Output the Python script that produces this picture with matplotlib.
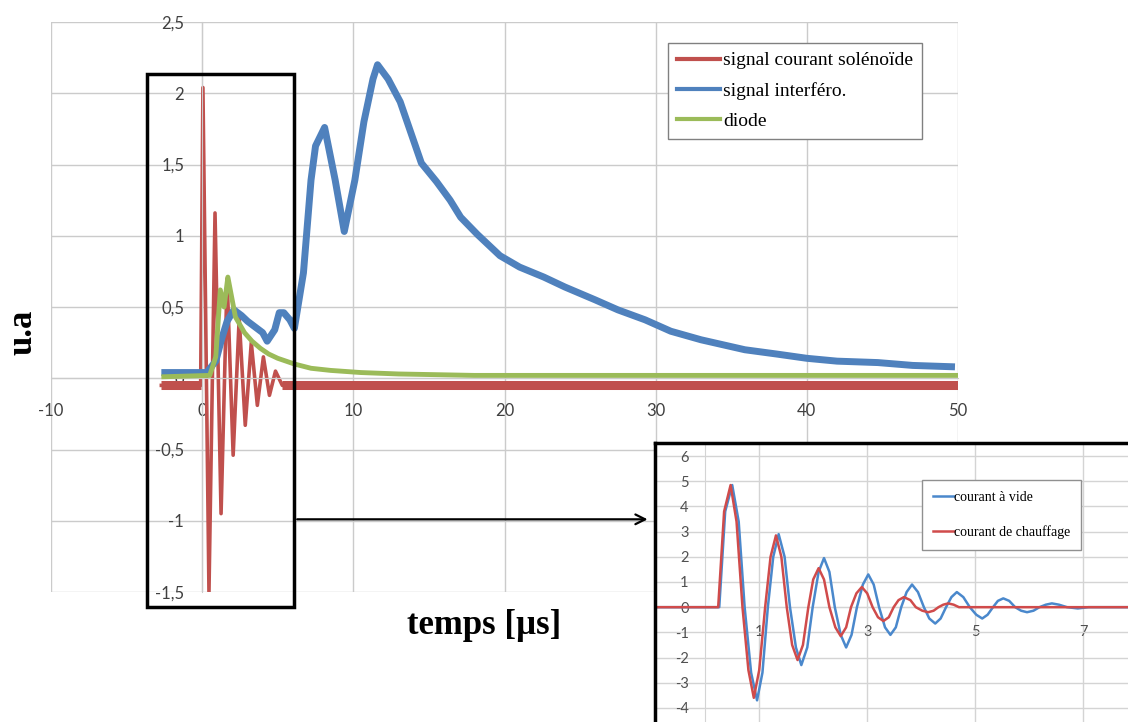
# Signal courant solenoide / interfero / diode, avec zoom sur l'oscillation du courant

import matplotlib
matplotlib.use('Agg')
import numpy as np
import matplotlib.pyplot as plt
from matplotlib.lines import Line2D
from matplotlib.patches import Rectangle

plt.rcParams['font.family'] = ['Lato', 'DejaVu Sans']
plt.rcParams['axes.unicode_minus'] = False

# main chart data (time in us)
t_sol = [-2.7, -0.1, 0.05, 0.45, 0.85, 1.25, 1.65, 2.05, 2.45, 2.85, 3.25, 3.65, 4.05, 4.45, 4.85, 5.3, 50]
y_sol = [-0.05, -0.05, 2.04, -1.50, 1.16, -0.95, 0.70, -0.54, 0.42, -0.33, 0.25, -0.19, 0.15, -0.12, 0.05, -0.05, -0.05]

t_int = [-2.7, 0.3, 0.9, 1.3, 1.65, 2.1, 2.6, 3.0, 3.5, 4.0, 4.3, 4.8, 5.1, 5.4, 5.8, 6.1, 6.7, 7.2, 7.5, 8.1,
         8.8, 9.4, 10.1, 10.7, 11.3, 11.6, 12.3, 13.1, 14.5, 15.5, 16.4, 17.1, 18.2, 19.7, 21.0, 22.6, 24.0, 26.0, 27.5, 29.3,
         31.0, 33.0, 35.9, 38.0, 40.0, 42.0, 44.7, 47.0, 49.8]
y_int = [0.04, 0.04, 0.12, 0.28, 0.40, 0.48, 0.44, 0.40, 0.36, 0.32, 0.26, 0.34, 0.46, 0.46, 0.41, 0.35, 0.74, 1.39, 1.63, 1.76,
         1.39, 1.03, 1.39, 1.80, 2.10, 2.20, 2.10, 1.94, 1.51, 1.38, 1.25, 1.13, 1.01, 0.86, 0.78, 0.71, 0.64, 0.55, 0.48, 0.41,
         0.33, 0.27, 0.20, 0.17, 0.14, 0.12, 0.11, 0.09, 0.08]

t_dio = [-2.7, 0.5, 0.9, 1.2, 1.45, 1.7, 2.2, 2.8, 3.3, 3.85, 4.4, 5.0, 6.1, 7.2, 8.5, 10.5, 13.0, 18.0, 25.0, 50.0]
y_dio = [0.01, 0.02, 0.15, 0.62, 0.50, 0.71, 0.43, 0.32, 0.26, 0.21, 0.17, 0.14, 0.10, 0.07, 0.055, 0.04, 0.03, 0.02, 0.02, 0.02]

x_ticks = [-10, 0, 10, 20, 30, 40, 50]
x_tick_labels = ['-10', '0', '10', '20', '30', '40', '50']
y_ticks = [-1.5, -1, -0.5, 0, 0.5, 1, 1.5, 2, 2.5]
y_tick_labels = ['-1,5', '-1', '-0,5', '0', '0,5', '1', '1,5', '2', '2,5']

# zoom data
t_vide = [-0.93, 0.26, 0.37, 0.50, 0.62, 0.73, 0.85, 0.96, 1.06, 1.16, 1.26, 1.36, 1.47, 1.57, 1.68, 1.78, 1.89, 1.99, 2.10, 2.20,
          2.30, 2.40, 2.51, 2.61, 2.71, 2.81, 2.92, 3.02, 3.12, 3.22, 3.33, 3.43, 3.53, 3.63, 3.73, 3.83, 3.94, 4.05, 4.15, 4.26,
          4.36, 4.46, 4.56, 4.66, 4.78, 4.90, 5.02, 5.13, 5.23, 5.33, 5.42, 5.52, 5.63, 5.74, 5.85, 5.96, 6.08, 6.19, 6.31, 6.42,
          6.55, 6.70, 6.90, 7.10, 7.83]
y_vide = [0, 0, 3.8, 4.85, 3.4, 0, -2.6, -3.7, -2.6, 0, 2.0, 2.9, 2.0, 0, -1.6, -2.3, -1.6, 0, 1.4, 1.95,
          1.4, 0, -1.1, -1.6, -1.1, 0, 0.9, 1.3, 0.9, 0, -0.8, -1.1, -0.8, 0, 0.6, 0.9, 0.6, 0, -0.45, -0.65,
          -0.45, 0, 0.4, 0.6, 0.4, 0, -0.3, -0.45, -0.3, 0, 0.25, 0.35, 0.25, 0, -0.14, -0.2, -0.14, 0, 0.1, 0.15,
          0.1, 0, -0.05, 0, 0]

t_chauf = [-0.93, 0.24, 0.35, 0.47, 0.58, 0.69, 0.80, 0.90, 1.00, 1.11, 1.21, 1.31, 1.41, 1.51, 1.61, 1.71, 1.81, 1.91, 2.00, 2.10,
           2.20, 2.30, 2.41, 2.51, 2.61, 2.70, 2.80, 2.90, 3.00, 3.10, 3.20, 3.30, 3.40, 3.49, 3.58, 3.68, 3.80, 3.90, 4.02, 4.13,
           4.23, 4.32, 4.41, 4.50, 4.60, 4.70, 5.0, 7.83]
y_chauf = [0, 0, 3.8, 4.85, 3.4, 0, -2.5, -3.6, -2.5, 0, 2.0, 2.85, 2.0, 0, -1.5, -2.1, -1.5, 0, 1.1, 1.55,
           1.1, 0, -0.8, -1.15, -0.8, 0, 0.55, 0.8, 0.55, 0, -0.4, -0.55, -0.4, 0, 0.28, 0.4, 0.28, 0, -0.14, -0.2,
           -0.14, 0, 0.1, 0.15, 0.1, 0, 0, 0]

zoom_x_ticks = [1, 3, 5, 7]
zoom_y_ticks = [-4, -3, -2, -1, 0, 1, 2, 3, 4, 5, 6]
zoom_y_labels = ['-4', '-3', '-2', '-1', '0', '1', '2', '3', '4', '5', '6']

RED = '#C0504D'
BLUE = '#4F81BD'
GREEN = '#9BBB59'
GRID = '#cbcbcb'
TXT = '#404040'
SERIF = 'Liberation Serif'

W, H = 1128, 722
fig = plt.figure(figsize=(W / 100, H / 100), dpi=100)

# ---- main chart
ax = fig.add_axes([51 / W, 1 - 592 / H, 907 / W, 570 / H])
t_sol_a = np.array(t_sol)
y_sol_a = np.array(y_sol)
ax.plot(t_sol, y_sol, color=RED, lw=2.6, zorder=2)
pre = t_sol_a <= -0.1
post = t_sol_a >= 5.3
ax.plot(t_sol_a[pre], y_sol_a[pre], color=RED, lw=6.5, solid_capstyle='butt', zorder=2)
ax.plot(t_sol_a[post], y_sol_a[post], color=RED, lw=6.5, solid_capstyle='butt', zorder=2)
ax.plot(t_int, y_int, color=BLUE, lw=5, solid_capstyle='butt', zorder=3)
ax.plot(t_dio, y_dio, color=GREEN, lw=3.5, solid_capstyle='butt', zorder=4)

ax.set_xlim(-10, 50)
ax.set_ylim(-1.5, 2.5)
ax.set_xticks(x_ticks)
ax.set_xticklabels(x_tick_labels)
ax.set_yticks(y_ticks)
ax.set_yticklabels(y_tick_labels)
ax.grid(True, color=GRID, lw=1)
ax.set_axisbelow(True)
ax.spines['top'].set_visible(False)
ax.spines['right'].set_visible(False)
ax.spines['left'].set_position(('data', 0))
ax.spines['bottom'].set_position(('data', 0))
ax.spines['left'].set_color(GRID)
ax.spines['bottom'].set_color(GRID)
ax.tick_params(length=0, labelsize=12, colors=TXT)
ax.tick_params(axis='x', pad=18)
ax.tick_params(axis='y', pad=13)

handles = [Line2D([], [], color=RED, lw=3), Line2D([], [], color=BLUE, lw=3), Line2D([], [], color=GREEN, lw=3)]
ax.legend(handles, ['signal courant solénoïde', 'signal interféro.', 'diode'],
          loc='upper left', bbox_to_anchor=(668 / W, 1 - 43 / H), bbox_transform=fig.transFigure,
          prop={'family': SERIF, 'size': 14}, fancybox=False, edgecolor='#808080', framealpha=1,
          handlelength=2.2, handletextpad=0.2, labelspacing=0.65, borderpad=0.45, borderaxespad=0)

# highlight box + arrow to the zoom
ax.add_patch(Rectangle((-3.65, -1.605), 9.75, 3.74, fill=False, ec='black', lw=2.5, clip_on=False, zorder=6))
ax.annotate('', xy=(29.65, -0.99), xytext=(6.1, -0.99), xycoords='data',
            arrowprops=dict(arrowstyle='->,head_length=0.7,head_width=0.35', color='black', lw=1.6),
            annotation_clip=False, zorder=6)

fig.text(484 / W, 1 - 625 / H, 'temps [µs]', ha='center', va='center',
         family=SERIF, weight='bold', size=25)
fig.text(23 / W, 1 - 332 / H, 'u.a', ha='center', va='center', rotation=90,
         family=SERIF, weight='bold', size=25)

# ---- zoom chart
az = fig.add_axes([655 / W, 0, 473 / W, 279 / H])
az.set_facecolor('white')
az.plot(t_vide, y_vide, color='#4A88CC', lw=1.8, zorder=3)
az.plot(t_chauf, y_chauf, color='#D04B4B', lw=1.8, zorder=4)
az.set_xlim(-0.93, 7.83)
az.set_ylim(-4.56, 6.52)
az.set_xticks(zoom_x_ticks)
az.set_yticks(zoom_y_ticks)
az.set_yticklabels(zoom_y_labels)
az.grid(True, color='#d4d4d4', lw=1)
az.set_axisbelow(True)
az.spines['right'].set_visible(False)
az.spines['left'].set_position(('data', 0))
az.spines['bottom'].set_position(('data', 0))
az.spines['left'].set_color('#d4d4d4')
az.spines['bottom'].set_color('#d4d4d4')
az.spines['top'].set_color('black')
az.spines['top'].set_linewidth(2.5)
az.plot([0, 0], [0, 1], transform=az.transAxes, color='black', lw=2.5, clip_on=False, zorder=7)
az.tick_params(length=0, labelsize=10.5, colors='#505050')
az.tick_params(axis='x', pad=13)
az.tick_params(axis='y', pad=12)
az.legend(['courant à vide', 'courant de chauffage'], loc='upper left',
          bbox_to_anchor=(922 / W, 1 - 480 / H), bbox_transform=fig.transFigure,
          prop={'family': SERIF, 'size': 10}, fancybox=False, edgecolor='#909090', framealpha=1,
          handlelength=1.5, handletextpad=0.0, labelspacing=1.5, borderpad=0.8, borderaxespad=0)

fig.savefig('out.png', dpi=100)
